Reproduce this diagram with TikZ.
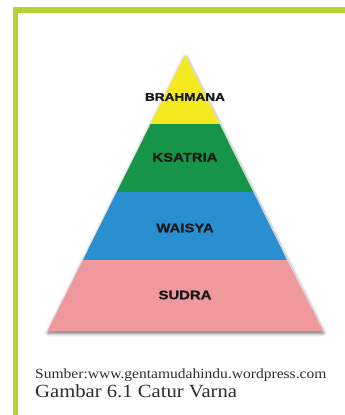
\documentclass[tikz,border=0pt]{standalone}
\usepackage{fontspec}
\usetikzlibrary{shadows.blur}
\newfontfamily\lblfont[FakeStretch=1.2,FakeBold=1.2,BoldFont={Liberation Sans Bold}]{Liberation Sans}
\newfontfamily\capfont[FakeStretch=1.11]{Liberation Serif}
\definecolor{frameg}{RGB}{181,212,52}
\definecolor{tyellow}{RGB}{243,233,30}
\definecolor{tgreen}{RGB}{22,148,71}
\definecolor{tblue}{RGB}{42,143,208}
\definecolor{tpink}{RGB}{239,152,158}
\definecolor{txtdark}{RGB}{25,25,25}
\definecolor{capgray}{RGB}{45,45,45}
\tikzset{
  band/.style={draw=none},
  lbl/.style={inner sep=0pt, anchor=center, text=txtdark},
  captxt/.style={inner sep=0pt, anchor=base west, text=capgray}
}
\begin{document}
\begin{tikzpicture}[x=1pt,y=-1pt]
\useasboundingbox (0,0) rectangle (345,415);
% frame
\fill[frameg] (13,7) rectangle (345,13);
\fill[frameg] (13,7) rectangle (18,415);
% pyramid shadow
\fill[white, blur shadow={shadow xshift=0.5pt, shadow yshift=-2pt, shadow blur radius=3.5pt, shadow opacity=60}]
  (185,55) -- (323,331) -- (47.5,331) -- cycle;
% bands
\fill[band, tyellow] (185,55) -- (219.4,124) -- (150.6,124) -- cycle;
\fill[band, tgreen] (150.6,124) -- (219.4,124) -- (253.3,192) -- (116.7,192) -- cycle;
\fill[band, tblue] (116.7,192) -- (253.3,192) -- (287.1,260) -- (82.9,260) -- cycle;
\fill[band, tpink] (82.9,260) -- (287.1,260) -- (323,331) -- (47.5,331) -- cycle;
% labels
\node[lbl, font=\lblfont\bfseries\fontsize{11.3}{13}\selectfont] (brahmana) at (185,97) {BRAHMANA};
\node[lbl, font=\lblfont\bfseries\fontsize{12.4}{14}\selectfont] (ksatria) at (185,157.3) {KSATRIA};
\node[lbl, font=\lblfont\bfseries\fontsize{12.4}{14}\selectfont] (waisya) at (185,228) {WAISYA};
\node[lbl, font=\lblfont\bfseries\fontsize{12.4}{14}\selectfont] (sudra) at (185,295) {SUDRA};
% caption
\node[captxt, font=\capfont\fontsize{14}{16}\selectfont] (sumber) at (35,378.3) {Sumber:www.gentamudahindu.wordpress.com};
\node[captxt, font=\capfont\fontsize{18.6}{21}\selectfont] (gambar) at (35,397.3) {Gambar 6.1 Catur Varna};
\end{tikzpicture}
\end{document}
